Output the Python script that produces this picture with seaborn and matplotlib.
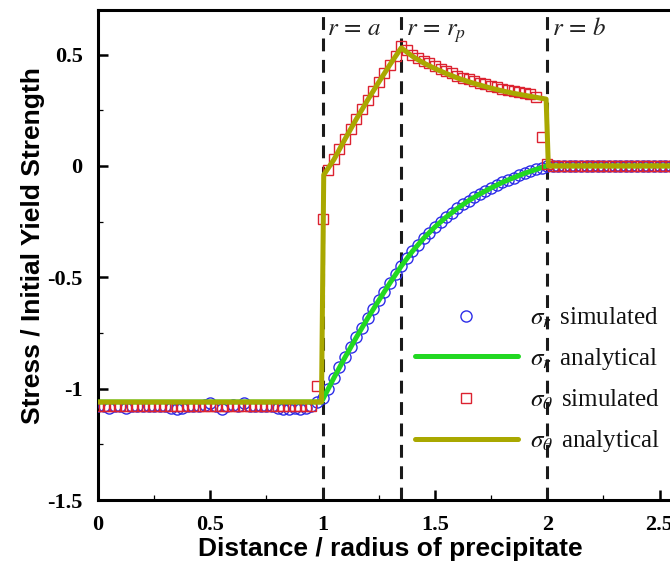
import matplotlib
matplotlib.use("Agg")
import matplotlib.pyplot as plt
import seaborn as sns
import pandas as pd
from matplotlib.ticker import MultipleLocator

# ---------------- data ----------------
x_sim = [0.000, 0.025, 0.050, 0.075, 0.100, 0.125, 0.150, 0.175, 0.200, 0.225,
         0.250, 0.275, 0.300, 0.325, 0.350, 0.375, 0.400, 0.425, 0.450, 0.475,
         0.500, 0.525, 0.550, 0.575, 0.600, 0.625, 0.650, 0.675, 0.700, 0.725,
         0.750, 0.775, 0.800, 0.825, 0.850, 0.875, 0.900, 0.925, 0.950, 0.975,
         1.000, 1.025, 1.050, 1.075, 1.100, 1.125, 1.150, 1.175, 1.200, 1.225,
         1.250, 1.275, 1.300, 1.325, 1.350, 1.375, 1.400, 1.425, 1.450, 1.475,
         1.500, 1.525, 1.550, 1.575, 1.600, 1.625, 1.650, 1.675, 1.700, 1.725,
         1.750, 1.775, 1.800, 1.825, 1.850, 1.875, 1.900, 1.925, 1.950, 1.975,
         2.000, 2.025, 2.050, 2.075, 2.100, 2.125, 2.150, 2.175, 2.200, 2.225,
         2.250, 2.275, 2.300, 2.325, 2.350, 2.375, 2.400, 2.425, 2.450, 2.475,
         2.500, 2.525, 2.550, 2.575, 2.600]

sigma_r_sim = [-1.080, -1.080, -1.085, -1.080, -1.080, -1.085, -1.080, -1.080, -1.080, -1.080,
               -1.080, -1.080, -1.080, -1.085, -1.090, -1.085, -1.080, -1.080, -1.080, -1.075,
               -1.065, -1.080, -1.090, -1.080, -1.075, -1.080, -1.065, -1.080, -1.080, -1.080,
               -1.080, -1.080, -1.085, -1.090, -1.090, -1.085, -1.090, -1.085, -1.080, -1.060,
               -1.040, -1.000, -0.952, -0.905, -0.859, -0.814, -0.770, -0.727, -0.685, -0.644,
               -0.604, -0.564, -0.525, -0.487, -0.450, -0.415, -0.383, -0.353, -0.325, -0.299,
               -0.274, -0.251, -0.230, -0.210, -0.191, -0.173, -0.156, -0.141, -0.126, -0.112,
               -0.099, -0.086, -0.074, -0.063, -0.053, -0.043, -0.033, -0.024, -0.016, -0.008,
               0.000, 0.000, 0.000, 0.000, 0.000, 0.000, 0.000, 0.000, 0.000, 0.000,
               0.000, 0.000, 0.000, 0.000, 0.000, 0.000, 0.000, 0.000, 0.000, 0.000,
               0.000, 0.000, 0.000, 0.000, 0.000]

sigma_t_sim = [-1.080, -1.080, -1.080, -1.080, -1.080, -1.080, -1.080, -1.080, -1.080, -1.080,
               -1.080, -1.080, -1.080, -1.080, -1.080, -1.080, -1.080, -1.080, -1.080, -1.080,
               -1.080, -1.080, -1.080, -1.080, -1.080, -1.080, -1.080, -1.080, -1.080, -1.080,
               -1.080, -1.080, -1.080, -1.080, -1.080, -1.080, -1.080, -1.080, -1.080, -0.990,
               -0.240, -0.020, 0.030, 0.075, 0.120, 0.165, 0.210, 0.255, 0.295, 0.335,
               0.375, 0.415, 0.455, 0.495, 0.540, 0.520, 0.500, 0.485, 0.470, 0.460,
               0.447, 0.436, 0.425, 0.415, 0.405, 0.396, 0.388, 0.380, 0.373, 0.366,
               0.359, 0.353, 0.347, 0.342, 0.336, 0.331, 0.327, 0.322, 0.310, 0.130,
               0.010, 0.000, 0.000, 0.000, 0.000, 0.000, 0.000, 0.000, 0.000, 0.000,
               0.000, 0.000, 0.000, 0.000, 0.000, 0.000, 0.000, 0.000, 0.000, 0.000,
               0.000, 0.000, 0.000, 0.000, 0.000]

x_ana = [0.000, 0.995, 1.005, 1.050, 1.100, 1.150, 1.200, 1.250, 1.300, 1.350,
         1.400, 1.450, 1.500, 1.550, 1.600, 1.650, 1.700, 1.750, 1.800, 1.850,
         1.900, 1.950, 1.995, 2.005, 2.600]
sigma_r_ana = [-1.060, -1.060, -1.040, -0.952, -0.859, -0.770, -0.685, -0.604, -0.525, -0.450,
               -0.383, -0.325, -0.274, -0.230, -0.191, -0.156, -0.126, -0.099, -0.074, -0.053,
               -0.033, -0.016, -0.001, 0.000, 0.000]
sigma_t_ana = [-1.060, -1.060, -0.040, 0.028, 0.121, 0.210, 0.295, 0.376, 0.455, 0.530,
               0.492, 0.462, 0.437, 0.415, 0.395, 0.378, 0.363, 0.349, 0.337, 0.326,
               0.317, 0.308, 0.300, 0.000, 0.000]

boundary_x = [1.0, 1.35, 2.0]
boundary_labels = [r"$r\,=\,a$", r"$r\,=\,r_p$", r"$r\,=\,b$"]

x_ticks = [0, 0.5, 1, 1.5, 2, 2.5]
x_tick_labels = ["0", "0.5", "1", "1.5", "2", "2.5"]
y_ticks = [-1.5, -1, -0.5, 0, 0.5]
y_tick_labels = ["-1.5", "-1", "-0.5", "0", "0.5"]

series_labels = [r"$\sigma_r\,$ simulated", r"$\sigma_r\,$ analytical",
                 r"$\sigma_\theta\,$ simulated", r"$\sigma_\theta\,$ analytical"]

sim_df = pd.DataFrame({"x": x_sim, "sr": sigma_r_sim, "st": sigma_t_sim})
ana_df = pd.DataFrame({"x": x_ana, "sr": sigma_r_ana, "st": sigma_t_ana})

# ---------------- style ----------------
sns.set_style("ticks")
plt.rcParams["mathtext.fontset"] = "stix"
plt.rcParams["font.family"] = ["Liberation Serif", "DejaVu Sans"]
for key in ["text.color", "axes.labelcolor", "xtick.color", "ytick.color", "axes.edgecolor"]:
    plt.rcParams[key] = "black"

BLUE = "#2d2de8"
GREEN = "#22d822"
RED = "#dc2230"
OLIVE = "#a9a800"

fig = plt.figure(figsize=(6.7, 5.71), dpi=100)
ax = fig.add_axes([98 / 670, 71 / 571, 584 / 670, 490 / 571])

for xv in boundary_x:
    ax.axvline(xv, color="#1a1a1a", lw=2.2, dashes=(4.2, 2.8), zorder=2)

sns.lineplot(data=sim_df, x="x", y="sr", ax=ax, estimator=None, sort=False,
             marker="o", linestyle="", color=BLUE, mfc="none", mec=BLUE, mew=1.0,
             ms=8, label=series_labels[0], zorder=3)
sns.lineplot(data=ana_df, x="x", y="sr", ax=ax, estimator=None, sort=False,
             color=GREEN, lw=3.6, label=series_labels[1], zorder=4)
sns.lineplot(data=sim_df, x="x", y="st", ax=ax, estimator=None, sort=False,
             marker="s", linestyle="", color=RED, mfc="none", mec=RED, mew=1.0,
             ms=7, label=series_labels[2], zorder=5)
sns.lineplot(data=ana_df, x="x", y="st", ax=ax, estimator=None, sort=False,
             color=OLIVE, lw=3.6, label=series_labels[3], zorder=6)

for xv, lab in zip(boundary_x, boundary_labels):
    ax.text(xv + 0.02, 0.586, lab, fontsize=18, ha="left", va="baseline",
            color="#222222", zorder=7)

ax.set_xlim(0, 2.6)
ax.set_ylim(-1.5, 0.7)

tick_font = dict(family="Liberation Serif", weight="bold", size=16)
ax.set_xticks(x_ticks)
ax.set_xticklabels(x_tick_labels, fontdict=tick_font)
ax.set_yticks(y_ticks)
ax.set_yticklabels(y_tick_labels, fontdict=tick_font)
ax.xaxis.set_minor_locator(MultipleLocator(0.25))
ax.yaxis.set_minor_locator(MultipleLocator(0.25))
ax.tick_params(which="major", direction="in", length=7, width=1.8, pad=11,
               top=False, right=False, colors="black")
ax.tick_params(which="minor", direction="in", length=3.5, width=0.9,
               top=False, right=False, colors="black")

for side in ["left", "bottom", "top", "right"]:
    ax.spines[side].set_linewidth(2.2)
    ax.spines[side].set_color("black")

lab_font = dict(family="Liberation Sans", weight="bold", size=19)
ax.set_xlabel("Distance / radius of precipitate", fontdict=lab_font, color="black")
ax.set_ylabel("Stress / Initial Yield Strength", fontdict=lab_font, color="black")
ax.xaxis.set_label_coords(0.5, -0.075)
ax.yaxis.set_label_coords(-0.09, 0.52)

handles, labels = ax.get_legend_handles_labels()
leg = ax.legend(handles, labels, loc="center left",
                bbox_to_anchor=(415 / 670, 1 - 380 / 571), bbox_transform=fig.transFigure,
                frameon=False, prop=dict(family="Liberation Serif", size=18),
                handlelength=4.1, handletextpad=0.5, labelspacing=0.64,
                borderpad=0, borderaxespad=0, numpoints=1)
for t in leg.get_texts():
    t.set_color("#111111")

fig.savefig("out.png", dpi=100)
